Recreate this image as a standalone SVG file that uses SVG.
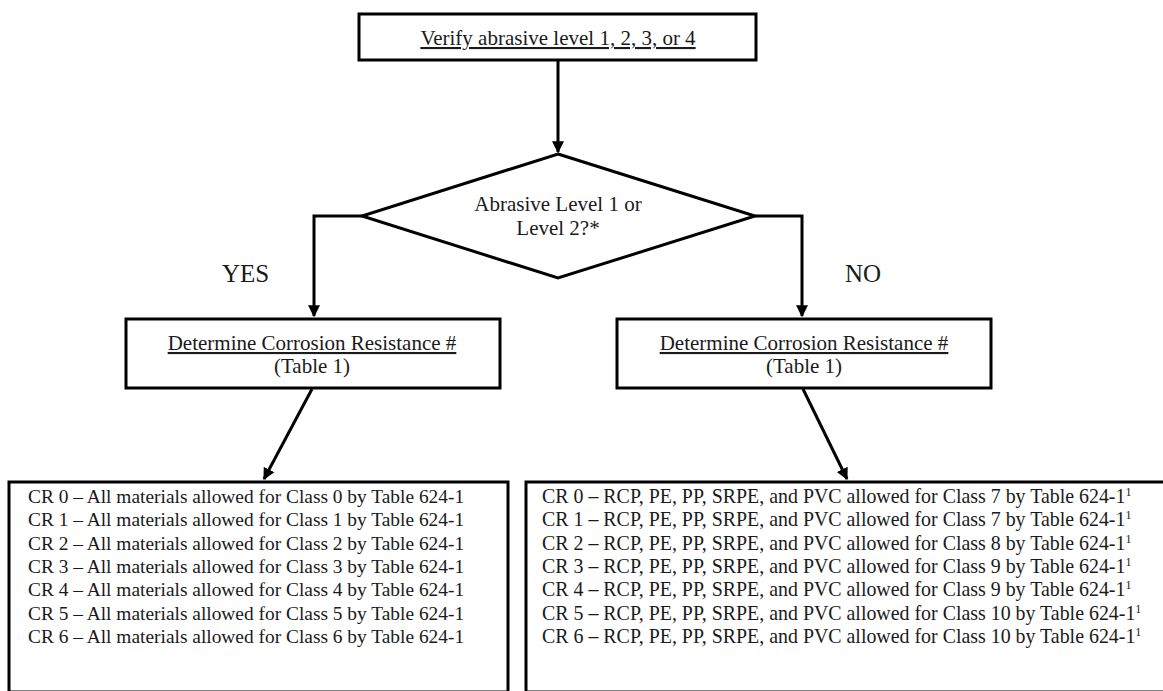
<svg xmlns="http://www.w3.org/2000/svg" width="1163" height="691" viewBox="0 0 1163 691">
<style>
.box{fill:#fff;stroke:#000;stroke-width:3}
.t{font-family:"Liberation Serif","Times New Roman",serif;font-size:21px;fill:#1a1a1a}
.l{font-family:"Liberation Serif","Times New Roman",serif;font-size:19.4px;fill:#1a1a1a}
.r{font-family:"Liberation Serif","Times New Roman",serif;font-size:19.9px;fill:#1a1a1a}
.c{text-anchor:middle}
.u{text-decoration:underline}
.lbl{font-family:"Liberation Serif","Times New Roman",serif;font-size:25px;fill:#1a1a1a}
.ln{fill:none;stroke:#000;stroke-width:3}
.sup{font-size:12px}
</style>
<defs>
<marker id="ah" viewBox="0 0 10 10" refX="9" refY="5" markerWidth="4" markerHeight="4.5" orient="auto" markerUnits="strokeWidth">
<path d="M0,0 L10,5 L0,10 z" fill="#000"/>
</marker>
</defs>
<g id="connectors">
<path class="ln" d="M558,60 V152" marker-end="url(#ah)"/>
<path class="ln" d="M362,216 H314 V316" marker-end="url(#ah)"/>
<path class="ln" d="M755,216 H802 V316" marker-end="url(#ah)"/>
<path class="ln" d="M312,389 L264,479" marker-end="url(#ah)"/>
<path class="ln" d="M803,389 L847,479" marker-end="url(#ah)"/>
</g>
<g id="verify">
<rect class="box" x="359" y="14" width="397" height="46"/>
<text class="t c u" x="558" y="45">Verify abrasive level 1, 2, 3, or 4</text>
</g>
<g id="decision">
<polygon class="box" stroke-width="2.5" points="558,154 755,216 558,278 362,216"/>
<text class="t c" x="558" y="211">Abrasive Level 1 or</text>
<text class="t c" x="558" y="235">Level 2?*</text>
</g>
<g id="yes"><text class="lbl" x="222" y="282">YES</text></g>
<g id="no"><text class="lbl" x="845" y="282">NO</text></g>
<g id="crLeft">
<rect class="box" x="126" y="319" width="374" height="69"/>
<text class="t c u" x="312" y="350">Determine Corrosion Resistance #</text>
<text class="t c" x="312" y="373">(Table 1)</text>
</g>
<g id="crRight">
<rect class="box" x="617" y="319" width="374" height="69"/>
<text class="t c u" x="804" y="350">Determine Corrosion Resistance #</text>
<text class="t c" x="804" y="373">(Table 1)</text>
</g>
<g id="listLeft">
<rect class="box" x="9" y="482" width="499" height="210"/>
<text class="l" x="28" y="503">CR 0 – All materials allowed for Class 0 by Table 624-1</text>
<text class="l" x="28" y="526">CR 1 – All materials allowed for Class 1 by Table 624-1</text>
<text class="l" x="28" y="550">CR 2 – All materials allowed for Class 2 by Table 624-1</text>
<text class="l" x="28" y="573">CR 3 – All materials allowed for Class 3 by Table 624-1</text>
<text class="l" x="28" y="596">CR 4 – All materials allowed for Class 4 by Table 624-1</text>
<text class="l" x="28" y="620">CR 5 – All materials allowed for Class 5 by Table 624-1</text>
<text class="l" x="28" y="643">CR 6 – All materials allowed for Class 6 by Table 624-1</text>
</g>
<g id="listRight">
<rect class="box" x="526" y="482" width="650" height="210"/>
<text class="r" x="542" y="503">CR 0 – RCP, PE, PP, SRPE, and PVC allowed for Class 7 by Table 624-1<tspan class="sup" dy="-7">1</tspan></text>
<text class="r" x="542" y="526">CR 1 – RCP, PE, PP, SRPE, and PVC allowed for Class 7 by Table 624-1<tspan class="sup" dy="-7">1</tspan></text>
<text class="r" x="542" y="550">CR 2 – RCP, PE, PP, SRPE, and PVC allowed for Class 8 by Table 624-1<tspan class="sup" dy="-7">1</tspan></text>
<text class="r" x="542" y="573">CR 3 – RCP, PE, PP, SRPE, and PVC allowed for Class 9 by Table 624-1<tspan class="sup" dy="-7">1</tspan></text>
<text class="r" x="542" y="596">CR 4 – RCP, PE, PP, SRPE, and PVC allowed for Class 9 by Table 624-1<tspan class="sup" dy="-7">1</tspan></text>
<text class="r" x="542" y="620">CR 5 – RCP, PE, PP, SRPE, and PVC allowed for Class 10 by Table 624-1<tspan class="sup" dy="-7">1</tspan></text>
<text class="r" x="542" y="643">CR 6 – RCP, PE, PP, SRPE, and PVC allowed for Class 10 by Table 624-1<tspan class="sup" dy="-7">1</tspan></text>
</g>
</svg>
